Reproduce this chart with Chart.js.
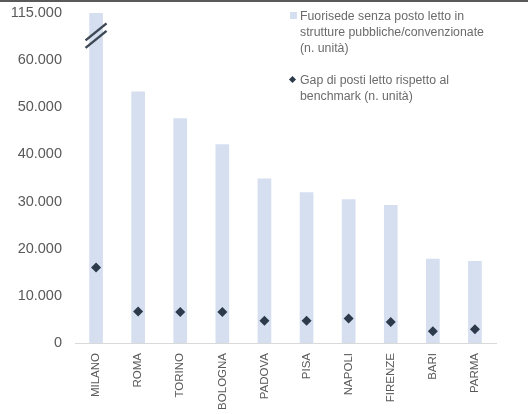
<!DOCTYPE html>
<html>
<head>
<meta charset="utf-8">
<script src="https://cdn.jsdelivr.net/npm/chart.js@4"></script>
<style>
    html, body { margin: 0; padding: 0; background: #fff; }
    #wrap { position: relative; width: 528px; height: 414px; overflow: hidden; }
    #topline { position: absolute; left: 0; top: 0; width: 528px; height: 2px; background: #5a5a5a; }
    .legend { position: absolute; left: 289px; font: 12.3px "Liberation Sans", Arial, sans-serif; color: #6b6b6b; line-height: 16px; }
    .legend .txt { margin-left: 11px; }
    .legend .sq { position: absolute; left: 1px; top: 4px; width: 7px; height: 7px; background: #d5dff0; }
    .legend .dm { position: absolute; left: 1px; top: 5px; width: 5px; height: 5px; background: #2c3a4b; transform: rotate(45deg); }
</style>
</head>
<body>
<div id="wrap">
    <canvas id="gapChart" width="528" height="414"></canvas>
    <div id="topline"></div>
    <div class="legend" style="top: 8px;">
        <div class="sq"></div>
        <div class="txt">Fuorisede senza posto letto in<br>strutture pubbliche/convenzionate<br>(n. unità)</div>
    </div>
    <div class="legend" style="top: 72px;">
        <div class="dm"></div>
        <div class="txt">Gap di posti letto rispetto al<br>benchmark (n. unità)</div>
    </div>
</div>
<script>
// città
const cities = ['MILANO', 'ROMA', 'TORINO', 'BOLOGNA', 'PADOVA', 'PISA', 'NAPOLI', 'FIRENZE', 'BARI', 'PARMA'];
// fuorisede senza posto letto (n. unità)
const fuorisede = [115000, 53300, 47600, 42100, 34800, 31900, 30400, 29200, 17800, 17300];
// gap di posti letto rispetto al benchmark (n. unità)
const gapPosti = [16000, 6700, 6550, 6550, 4700, 4700, 5200, 4450, 2500, 2900];
// tick dell'asse y (l'ultimo è dopo l'interruzione)
const yTicks = [0, 10000, 20000, 30000, 40000, 50000, 60000, 115000];

// asse interrotto: sopra 60.000 lo spazio di un tick vale 55.000
const breakFrom = 60000;
const breakTo = 115000;
function axisValue(v) {
    if (v <= breakFrom) return v;
    return breakFrom + (v - breakFrom) * 10000 / (breakTo - breakFrom);
}
function fmt(n) {
    return String(n).replace(/\B(?=(\d{3})+(?!\d))/g, '.');
}

// disegna il simbolo di interruzione sulla barra di Milano
const breakMark = {
    id: 'breakMark',
    afterDatasetsDraw(chart) {
        const ctx = chart.ctx;
        const x = chart.scales.x.getPixelForValue(0);
        const y1 = chart.scales.y.getPixelForValue(66000);
        const y2 = chart.scales.y.getPixelForValue(64400);
        ctx.save();
        ctx.strokeStyle = '#3f4955';
        ctx.lineWidth = 2.5;
        [y1, y2].forEach(y => {
            ctx.beginPath();
            ctx.moveTo(x - 10.5, y + 8.5);
            ctx.lineTo(x + 10.5, y - 8.5);
            ctx.stroke();
        });
        ctx.restore();
    }
};

Chart.defaults.font.family = '"Liberation Sans", Arial, sans-serif';

new Chart(document.getElementById('gapChart').getContext('2d'), {
    type: 'bar',
    data: {
        labels: cities,
        datasets: [{
            type: 'line',
            label: 'Gap di posti letto rispetto al benchmark (n. unità)',
            data: gapPosti,
            showLine: false,
            pointStyle: 'rectRot',
            pointRadius: 5,
            pointHoverRadius: 5,
            backgroundColor: '#2c3a4b',
            borderColor: '#2c3a4b',
            borderWidth: 0,
            order: 0
        }, {
            label: 'Fuorisede senza posto letto in strutture pubbliche/convenzionate (n. unità)',
            data: fuorisede.map(axisValue),
            backgroundColor: '#d5dff0',
            barThickness: 13,
            order: 1
        }]
    },
    options: {
        responsive: false,
        animation: false,
        layout: { padding: { top: 13, right: 32, left: 0, bottom: 0 } },
        plugins: {
            legend: { display: false },
            tooltip: { enabled: false }
        },
        scales: {
            x: {
                grid: { display: false, drawTicks: false },
                border: { display: true, color: '#d9d9d9', width: 1 },
                ticks: {
                    color: '#595959',
                    font: { size: 11.5 },
                    minRotation: 90,
                    maxRotation: 90,
                    padding: 10
                },
                afterFit: scale => { scale.height = 71; }
            },
            y: {
                min: 0,
                max: axisValue(breakTo),
                grid: { display: false, drawTicks: false },
                border: { display: false },
                afterBuildTicks: scale => {
                    scale.ticks = yTicks.map(v => ({ value: axisValue(v) }));
                },
                ticks: {
                    color: '#595959',
                    font: { size: 14.5 },
                    padding: 13,
                    callback: value => fmt(value === axisValue(breakTo) ? breakTo : value)
                },
                afterFit: scale => {
                    scale.width = 75;
                    scale.paddingTop = 0;
                    scale.paddingBottom = 0;
                }
            }
        }
    },
    plugins: [breakMark]
});
</script>
</body>
</html>
